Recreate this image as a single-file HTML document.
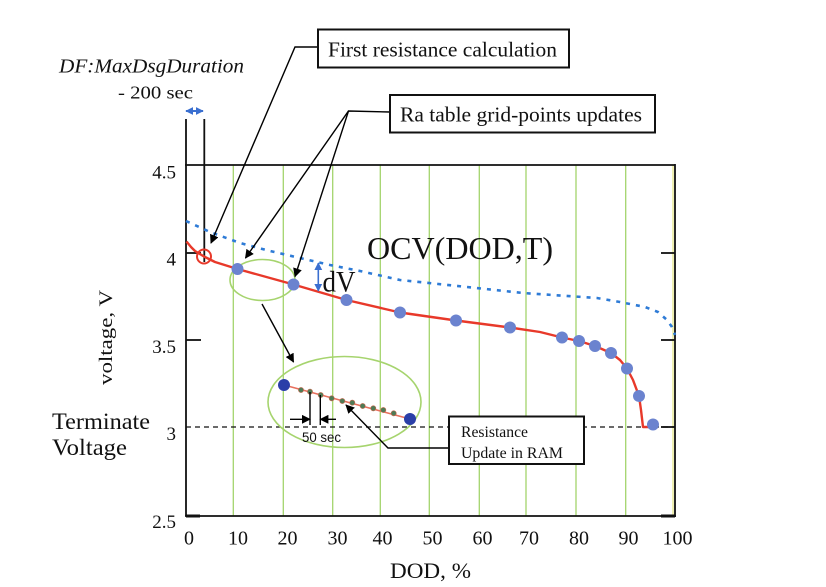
<!DOCTYPE html>
<html><head><meta charset="utf-8"><style>
html,body{margin:0;padding:0;background:#fff;}
svg{display:block;}
text{font-family:"Liberation Serif","Times New Roman",serif;fill:#111;}
</style></head><body>
<svg width="826" height="587" viewBox="0 0 826 587" xmlns="http://www.w3.org/2000/svg">
<defs>
<marker id="ah" viewBox="0 0 10 10" refX="9" refY="5" markerWidth="9" markerHeight="9" markerUnits="userSpaceOnUse" orient="auto"><path d="M0,0 L10,5 L0,10 z" fill="#000"/></marker>
<marker id="bh" viewBox="0 0 10 10" refX="9" refY="5" markerWidth="8" markerHeight="8" markerUnits="userSpaceOnUse" orient="auto-start-reverse"><path d="M0,0 L10,5 L0,10 z" fill="#3a6fd0"/></marker>
</defs>
<rect width="826" height="587" fill="#fff"/>

<!-- grid lines -->
<g stroke="#a3d46c" stroke-width="1.3">
<line x1="233.3" y1="165" x2="233.3" y2="516"/>
<line x1="283.3" y1="165" x2="283.3" y2="516"/>
<line x1="332.7" y1="165" x2="332.7" y2="516"/>
<line x1="380.3" y1="165" x2="380.3" y2="516"/>
<line x1="429.3" y1="165" x2="429.3" y2="516"/>
<line x1="479.3" y1="165" x2="479.3" y2="516"/>
<line x1="526" y1="165" x2="526" y2="516"/>
<line x1="576" y1="165" x2="576" y2="516"/>
<line x1="625.7" y1="165" x2="625.7" y2="516"/>
<line x1="673" y1="165" x2="673" y2="516" stroke="#e6e88a"/>
</g>

<!-- axes/frame -->
<g stroke="#111" stroke-width="1.8" fill="none">
<line x1="186" y1="119" x2="186" y2="516"/>
<line x1="204.3" y1="119" x2="204.3" y2="262"/>
<line x1="185" y1="165" x2="675" y2="165"/>
<line x1="675" y1="164" x2="675" y2="517"/>
<line x1="185" y1="516" x2="676" y2="516"/>
<line x1="186" y1="253" x2="201" y2="253"/>
<line x1="186" y1="340" x2="201" y2="340"/>
<line x1="186" y1="516" x2="200" y2="516" stroke-width="3"/>
<line x1="661" y1="253" x2="675" y2="253"/>
<line x1="661" y1="340" x2="675" y2="340"/>
<line x1="661" y1="427" x2="675" y2="427"/>
<line x1="661" y1="516" x2="675" y2="516" stroke-width="3"/>
</g>
<line x1="186" y1="427" x2="675" y2="427" stroke="#111" stroke-width="1.3" stroke-dasharray="5 4"/>

<!-- OCV dotted -->
<path d="M186,221 L210,232 L240,243 L270,251 L300,258 L330,265 L360,271 L400,280 L467,287 L523,293 L597,298 L620,302 L645,307 L658,312 L667,320 L672,327 L675,335" fill="none" stroke="#2e7bd6" stroke-width="2.6" stroke-dasharray="4 6"/>

<!-- green ellipses -->
<ellipse cx="262.5" cy="280" rx="32.5" ry="20.5" fill="none" stroke="#a6d46e" stroke-width="1.6"/>
<ellipse cx="344.5" cy="402" rx="76.5" ry="45.5" fill="none" stroke="#a6d46e" stroke-width="1.6"/>

<!-- red discharge curve -->
<polyline points="186.5,241.5 191,247 195,251 204,256.5 215,262 237.5,269 293.5,284.5 346.5,300 400,312.5 456,320.5 510,327.5 540,332 562,337.5 579,341 595,346 611,353 620,360 627,368.5 633,380 639,396 641,410 643,427 653,427" fill="none" stroke="#e8392a" stroke-width="2.4" stroke-linejoin="round"/>
<circle cx="204" cy="256.5" r="7" fill="none" stroke="#e8392a" stroke-width="2"/>

<!-- blue dots -->
<g fill="#6b83cf">
<circle cx="237.5" cy="269" r="6"/>
<circle cx="293.5" cy="284.5" r="6"/>
<circle cx="346.5" cy="300" r="6"/>
<circle cx="400" cy="312.5" r="6"/>
<circle cx="456" cy="320.5" r="6"/>
<circle cx="510" cy="327.5" r="6"/>
<circle cx="562" cy="337.5" r="6"/>
<circle cx="579" cy="341" r="6"/>
<circle cx="595" cy="346" r="6"/>
<circle cx="611" cy="353" r="6"/>
<circle cx="627" cy="368.5" r="6"/>
<circle cx="639" cy="396" r="6"/>
<circle cx="653" cy="424.5" r="6"/>
</g>

<!-- zoomed inset inside big ellipse -->
<line x1="284" y1="385" x2="410" y2="419" stroke="#e8705e" stroke-width="1.6"/>
<g fill="#4f7a55" stroke="#c86a50" stroke-width="0.6">
<circle cx="301" cy="390" r="2.6"/>
<circle cx="310" cy="391.7" r="2.6"/>
<circle cx="320.7" cy="395" r="2.6"/>
<circle cx="331.7" cy="398.3" r="2.6"/>
<circle cx="342.3" cy="401" r="2.6"/>
<circle cx="352.3" cy="402.7" r="2.6"/>
<circle cx="362.7" cy="406" r="2.6"/>
<circle cx="373.3" cy="408.3" r="2.6"/>
<circle cx="383.3" cy="410" r="2.6"/>
<circle cx="393.7" cy="413.3" r="2.6"/>
</g>
<circle cx="284" cy="385" r="6" fill="#2b3fa8"/>
<circle cx="410" cy="419" r="6" fill="#2b3fa8"/>
<g stroke="#000" stroke-width="1.4">
<line x1="310" y1="392" x2="310" y2="425"/>
<line x1="320.3" y1="395" x2="320.3" y2="425"/>
<line x1="290" y1="419.3" x2="310" y2="419.3" marker-end="url(#ah)"/>
<line x1="336" y1="419.3" x2="320.3" y2="419.3" marker-end="url(#ah)"/>
</g>
<text x="302" y="442" font-size="14" textLength="39" lengthAdjust="spacingAndGlyphs" style="font-family:'Liberation Sans',Arial,sans-serif">50 sec</text>

<!-- leader lines -->
<g stroke="#000" stroke-width="1.4" fill="none">
<polyline points="318,47 295,47 211,243" marker-end="url(#ah)"/>
<polyline points="390,112 348.5,111 245.5,258" marker-end="url(#ah)"/>
<line x1="348.5" y1="111" x2="295" y2="276.5" marker-end="url(#ah)"/>
<line x1="262" y1="304" x2="293.5" y2="362" marker-end="url(#ah)"/>
<polyline points="449,448 388,448 346,405" marker-end="url(#ah)"/>
</g>

<!-- blue arrows -->
<line x1="186" y1="111" x2="203" y2="111" stroke="#3a6fd0" stroke-width="2" marker-start="url(#bh)" marker-end="url(#bh)"/>
<line x1="318.3" y1="263" x2="318.3" y2="291" stroke="#3a6fd0" stroke-width="1.6" marker-start="url(#bh)" marker-end="url(#bh)"/>

<!-- boxes -->
<rect x="318" y="29.5" width="251" height="38" fill="#fff" stroke="#111" stroke-width="2"/>
<text x="328" y="56.5" font-size="21" textLength="229" lengthAdjust="spacingAndGlyphs">First resistance calculation</text>
<rect x="390" y="95" width="265" height="37.5" fill="#fff" stroke="#111" stroke-width="2"/>
<text x="400" y="121.5" font-size="21" textLength="242" lengthAdjust="spacingAndGlyphs">Ra table grid-points updates</text>
<rect x="449" y="416.5" width="135" height="47.5" fill="#fff" stroke="#111" stroke-width="2"/>
<text x="461" y="437" font-size="15.5" textLength="67" lengthAdjust="spacingAndGlyphs">Resistance</text>
<text x="461" y="458" font-size="15.5" textLength="102" lengthAdjust="spacingAndGlyphs">Update in RAM</text>

<!-- annotations -->
<text x="59" y="72.5" font-size="20" font-style="italic" textLength="185" lengthAdjust="spacingAndGlyphs">DF:MaxDsgDuration</text>
<text x="118" y="98.5" font-size="18" textLength="75" lengthAdjust="spacingAndGlyphs">- 200 sec</text>
<text x="367" y="259" font-size="32" textLength="186" lengthAdjust="spacingAndGlyphs">OCV(DOD,T)</text>
<text x="322.5" y="291.5" font-size="30" textLength="33" lengthAdjust="spacingAndGlyphs">dV</text>
<text x="52" y="429" font-size="23" textLength="98" lengthAdjust="spacingAndGlyphs">Terminate</text>
<text x="52" y="455" font-size="23" textLength="75" lengthAdjust="spacingAndGlyphs">Voltage</text>

<!-- y tick labels -->
<g font-size="19" text-anchor="end">
<text x="176" y="178.5">4.5</text>
<text x="176" y="265.5">4</text>
<text x="176" y="353">3.5</text>
<text x="176" y="440">3</text>
<text x="176" y="528">2.5</text>
</g>
<!-- x tick labels -->
<g font-size="20" text-anchor="middle">
<text x="189" y="544.5">0</text>
<text x="238" y="544.5">10</text>
<text x="287.5" y="544.5">20</text>
<text x="337.5" y="544.5">30</text>
<text x="382.5" y="544.5">40</text>
<text x="432.5" y="544.5">50</text>
<text x="482.5" y="544.5">60</text>
<text x="529" y="544.5">70</text>
<text x="579" y="544.5">80</text>
<text x="628.5" y="544.5">90</text>
<text x="677.5" y="544.5">100</text>
</g>
<text x="390" y="578" font-size="22" textLength="81" lengthAdjust="spacingAndGlyphs">DOD, %</text>
<text transform="translate(112,385) rotate(-90)" x="0" y="0" font-size="19" textLength="95" lengthAdjust="spacingAndGlyphs">voltage, V</text>
</svg>
</body></html>
